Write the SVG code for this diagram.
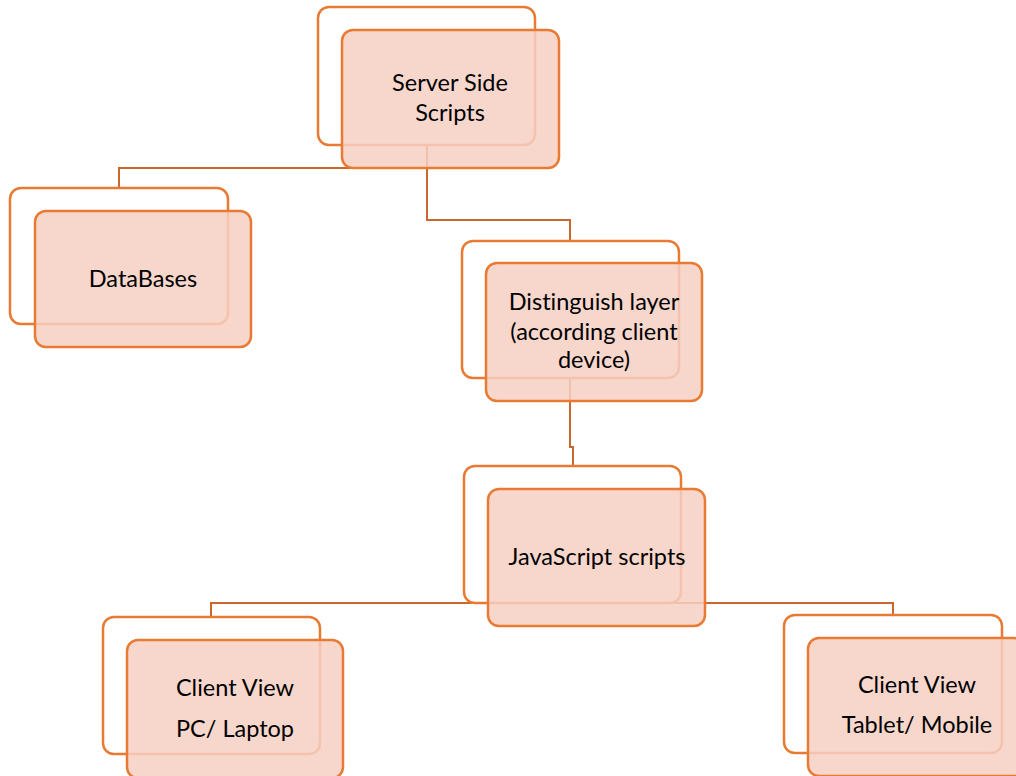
<svg xmlns="http://www.w3.org/2000/svg" width="1016" height="776" viewBox="0 0 1016 776">
<style>
.back{fill:#ffffff;stroke:#E97A33;stroke-width:2.5}
.front{fill:#F6D0C3;fill-opacity:0.85;stroke:#E97A33;stroke-width:2.5}
.conn{fill:none;stroke:#C8682E;stroke-width:2}
text{font-family:Lato,"Open Sans","Liberation Sans",sans-serif;font-size:23.5px;fill:#000;text-anchor:middle;font-variant-ligatures:none}
</style>
<rect width="1016" height="776" fill="#ffffff"/>
<g id="connectors">
<polyline class="conn" points="427,145 427,168 119,168 119,188"/>
<polyline class="conn" points="427,168 427,220 570,220 570,241"/>
<polyline class="conn" points="570,378 570,447 573,447 573,466"/>
<polyline class="conn" points="211,617 211,603 893,603 893,615"/>
</g>
<g id="server">
<rect class="back" x="318" y="7" width="217" height="138" rx="11"/>
<rect class="front" x="342" y="30" width="217" height="138" rx="11"/>
<text x="450" y="91">Server Side</text>
<text x="450" y="121">Scripts</text>
</g>
<g id="databases">
<rect class="back" x="10" y="188" width="218" height="136" rx="11"/>
<rect class="front" x="35" y="211" width="216" height="136" rx="11"/>
<text x="143" y="287">DataBases</text>
</g>
<g id="distinguish">
<rect class="back" x="462" y="241" width="217" height="137" rx="11"/>
<rect class="front" x="486" y="263" width="216" height="138" rx="11"/>
<text x="594" y="310">Distinguish layer</text>
<text x="594" y="340">(according client</text>
<text x="594" y="368">device)</text>
</g>
<g id="javascript">
<rect class="back" x="464" y="466" width="217" height="137" rx="11"/>
<rect class="front" x="488" y="489" width="217" height="137" rx="11"/>
<text x="597" y="565">JavaScript scripts</text>
</g>
<g id="pc">
<rect class="back" x="103" y="617" width="217" height="137" rx="11"/>
<rect class="front" x="127" y="640" width="216" height="138" rx="11"/>
<text x="235" y="696">Client View</text>
<text x="235" y="737">PC/ Laptop</text>
</g>
<g id="tablet">
<rect class="back" x="784" y="615" width="218" height="138" rx="11"/>
<rect class="front" x="808" y="638" width="217" height="138" rx="11"/>
<text x="917" y="693">Client View</text>
<text x="917" y="733">Tablet/ Mobile</text>
</g>
</svg>
